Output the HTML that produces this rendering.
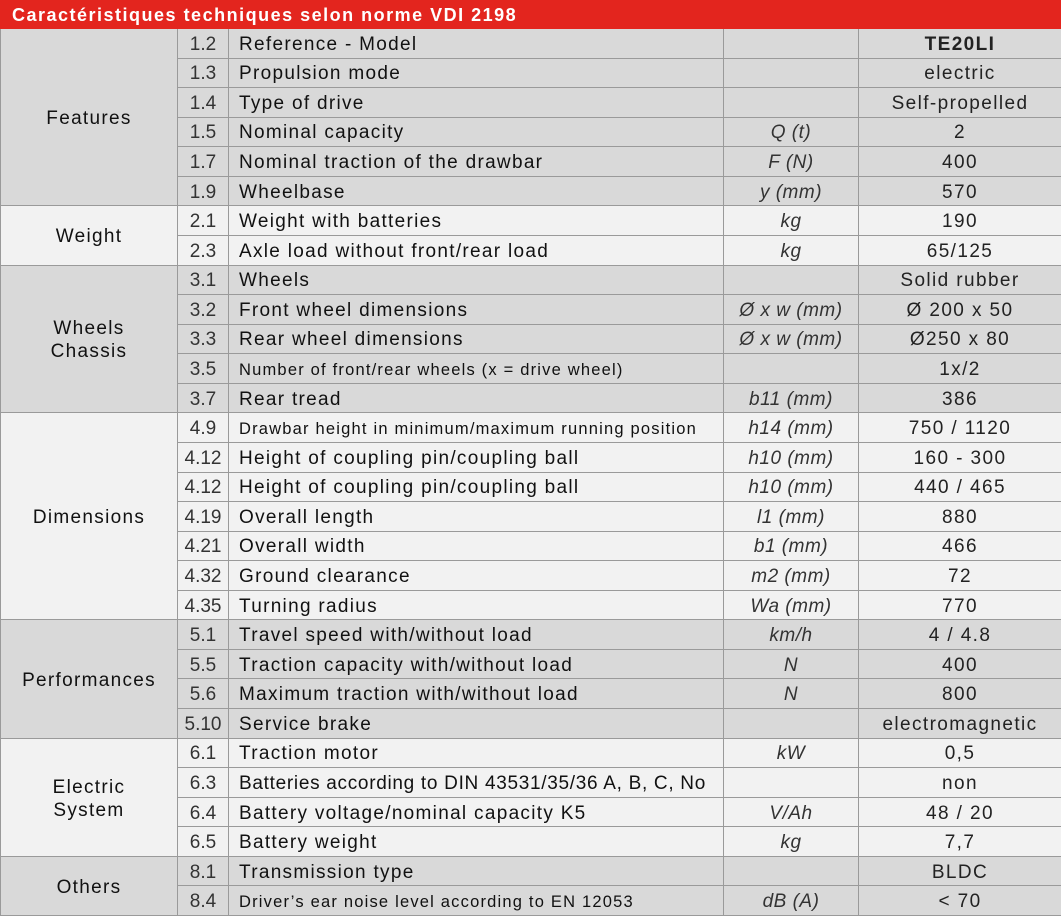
<!DOCTYPE html>
<html><head><meta charset="utf-8"><style>
*{box-sizing:border-box;margin:0;padding:0}
body{width:1061px;height:916px;overflow:hidden;background:#fff;font-family:"Liberation Sans",sans-serif;color:#111}
.t{position:absolute;left:0;top:0;width:1061px;height:29px;background:#e3251e;color:#fff;font-weight:bold;font-size:18px;letter-spacing:1.5px;line-height:31px;padding-left:12px}
.g{position:absolute;left:0;top:29px;width:1061px;height:887px;display:grid;grid-template-columns:177px 51px 495px 135px 203px;grid-template-rows:repeat(30,1fr);border-left:1px solid #9a9a9a}
.g>div{border-right:1px solid #9a9a9a;border-bottom:1px solid #9a9a9a;display:flex;align-items:center;padding-top:3px;font-size:19px;letter-spacing:1.3px;white-space:nowrap;overflow:hidden}
.grp{justify-content:center;text-align:center;line-height:23px}
.n{justify-content:center;color:#333;letter-spacing:0!important}
.l{padding-left:10px}
.u{justify-content:center;font-style:italic;color:#333;letter-spacing:0.5px!important}
.v{justify-content:center;color:#222;letter-spacing:1.4px!important}
.g .s{font-size:16.5px;letter-spacing:1.2px}
.g .w{letter-spacing:0.7px}
</style></head><body>
<div class="t">Caractéristiques techniques selon norme VDI 2198</div>
<div class="g" id="g"></div>
<script>
var d=[
["Features",["1.2","Reference - Model","","<b>TE20LI</b>"],["1.3","Propulsion mode","","electric"],["1.4","Type of drive","","Self-propelled"],["1.5","Nominal capacity","Q (t)","2"],["1.7","Nominal traction of the drawbar","F (N)","400"],["1.9","Wheelbase","y (mm)","570"]],
["Weight",["2.1","Weight with batteries","kg","190"],["2.3","Axle load without front/rear load","kg","65/125"]],
["Wheels<br>Chassis",["3.1","Wheels","","Solid rubber"],["3.2","Front wheel dimensions","Ø x w (mm)","Ø 200 x 50"],["3.3","Rear wheel dimensions","Ø x w (mm)","Ø250 x 80"],["3.5","Number of front/rear wheels (x = drive wheel)","","1x/2",1],["3.7","Rear tread","b11 (mm)","386"]],
["Dimensions",["4.9","Drawbar height in minimum/maximum running position","h14 (mm)","750 / 1120",1],["4.12","Height of coupling pin/coupling ball","h10 (mm)","160 - 300"],["4.12","Height of coupling pin/coupling ball","h10 (mm)","440 / 465"],["4.19","Overall length","l1 (mm)","880"],["4.21","Overall width","b1 (mm)","466"],["4.32","Ground clearance","m2 (mm)","72"],["4.35","Turning radius","Wa (mm)","770"]],
["Performances",["5.1","Travel speed with/without load","km/h","4 / 4.8"],["5.5","Traction capacity with/without load","N","400"],["5.6","Maximum traction with/without load","N","800"],["5.10","Service brake","","electromagnetic"]],
["Electric<br>System",["6.1","Traction motor","kW","0,5"],["6.3","Batteries according to DIN 43531/35/36 A, B, C, No","","non",2],["6.4","Battery voltage/nominal capacity K5","V/Ah","48 / 20"],["6.5","Battery weight","kg","7,7"]],
["Others",["8.1","Transmission type","","BLDC"],["8.4","Driver’s ear noise level according to EN 12053","dB (A)","< 70",1]]
];
var h="",r=1;
d.forEach(function(gp,gi){
 var bg=gi%2==0?"#d9d9d9":"#f2f2f2",n=gp.length-1;
 h+='<div class="grp" style="grid-column:1;grid-row:'+r+' / span '+n+';background:'+bg+'">'+gp[0]+'</div>';
 for(var i=1;i<=n;i++){var x=gp[i],st='style="grid-row:'+r+';background:'+bg+'"';
  var c=x[4]==1?' s':(x[4]==2?' w':'');
  h+='<div class="n" '+st+'>'+x[0]+'</div><div class="l'+c+'" '+st+'>'+x[1]+'</div><div class="u" '+st+'>'+x[2]+'</div><div class="v" '+st+'>'+x[3]+'</div>';r++;}
});
document.getElementById("g").innerHTML=h;
</script>
</body></html>
